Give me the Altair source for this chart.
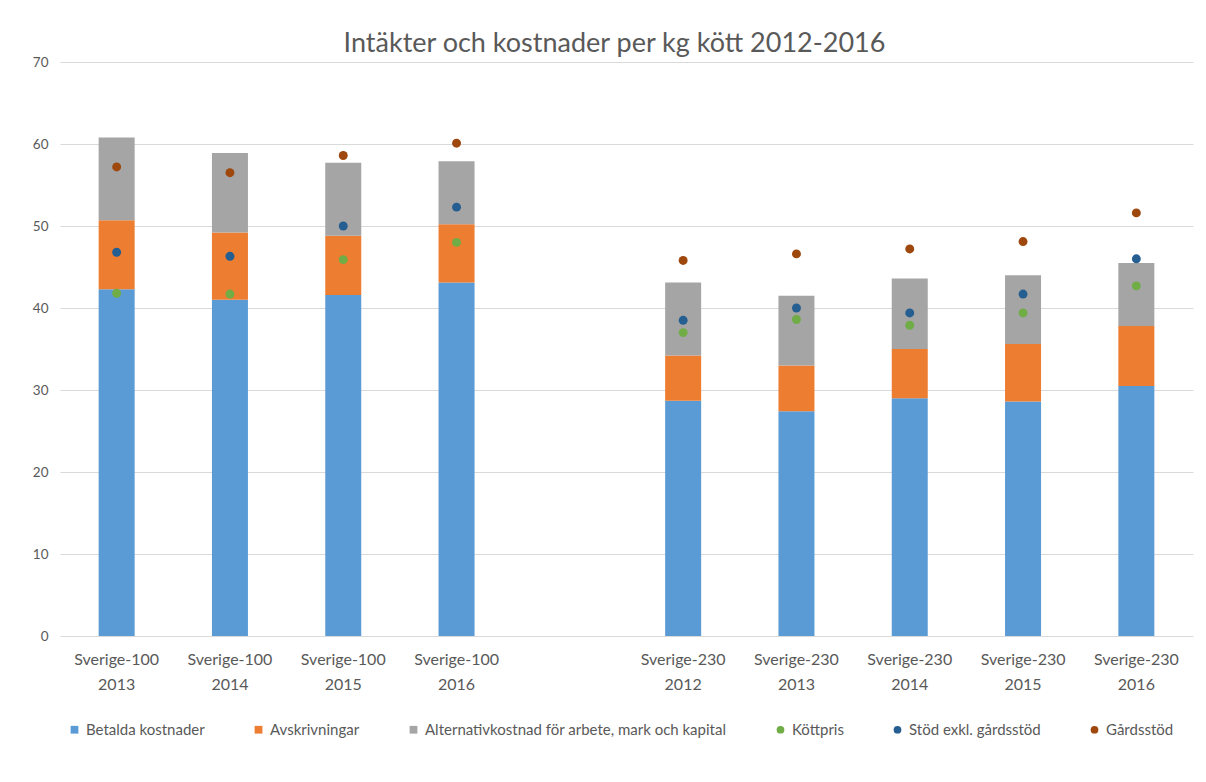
import altair as alt
import pandas as pd

categories = [
    "Sverige-100|2013", "Sverige-100|2014", "Sverige-100|2015", "Sverige-100|2016",
    "Sverige-230|2012", "Sverige-230|2013", "Sverige-230|2014", "Sverige-230|2015", "Sverige-230|2016",
]
gap = " "
x_domain = categories[:4] + [gap] + categories[4:]

series = [
    "Betalda kostnader",
    "Avskrivningar",
    "Alternativkostnad för arbete, mark och kapital",
    "Köttpris",
    "Stöd exkl. gårdsstöd",
    "Gårdsstöd",
]
colors = ["#5B9BD5", "#ED7D31", "#A5A5A5", "#70AD47", "#255E91", "#9E480E"]
shapes = ["square", "square", "square", "circle", "circle", "circle"]

# stacked bar segments
betalda = [42.3, 41.0, 41.6, 43.1, 28.7, 27.4, 29.0, 28.6, 30.5]
avskrivningar = [8.4, 8.2, 7.2, 7.1, 5.5, 5.6, 6.0, 7.0, 7.3]
alternativ = [10.1, 9.7, 8.9, 7.7, 8.9, 8.5, 8.6, 8.4, 7.7]

# points
kottpris = [41.8, 41.7, 45.9, 48.0, 37.0, 38.6, 37.9, 39.4, 42.7]
stod = [46.8, 46.3, 50.0, 52.3, 38.5, 40.0, 39.4, 41.7, 46.0]
gardsstod = [57.2, 56.5, 58.6, 60.1, 45.8, 46.6, 47.2, 48.1, 51.6]

bar_rows = []
for i, vals in enumerate([betalda, avskrivningar, alternativ]):
    for c, v in zip(categories, vals):
        bar_rows.append({"cat": c, "series": series[i], "value": v, "idx": i})
bar_df = pd.DataFrame(bar_rows)

pt_rows = []
for i, vals in enumerate([kottpris, stod, gardsstod]):
    for c, v in zip(categories, vals):
        pt_rows.append({"cat": c, "series": series[i + 3], "value": v})
pt_df = pd.DataFrame(pt_rows)

FONT = "Lato"
TXT = "#595959"

x_enc = alt.X(
    "cat:N",
    scale=alt.Scale(domain=x_domain, paddingInner=0, paddingOuter=0),
    axis=alt.Axis(
        title=None, labelAngle=0, labelExpr="split(datum.label, '|')",
        domain=False, ticks=False, labelPadding=15, labelLineHeight=25,
        labelFontSize=16, labelColor=TXT, labelFont=FONT,
    ),
)
y_scale = alt.Scale(domain=[0, 70])
y_axis = alt.Axis(
    title=None, values=[0, 10, 20, 30, 40, 50, 60, 70], domain=False, ticks=False,
    grid=True, gridColor="#D9D9D9", gridWidth=1, labelPadding=12,
    labelFontSize=13.5, labelColor=TXT, labelFont=FONT,
)

legend = alt.Legend(
    title=None, orient="none", legendX=7, legendY=660, direction="horizontal",
    labelFontSize=15, labelColor=TXT, labelFont=FONT, symbolSize=60,
    columnPadding=46, symbolStrokeWidth=0, labelLimit=400,
)
color_enc = alt.Color("series:N", scale=alt.Scale(domain=series, range=colors), legend=legend)
shape_enc = alt.Shape("series:N", scale=alt.Scale(domain=series, range=shapes), legend=legend)

bars = alt.Chart(bar_df).mark_bar(size=36).encode(
    x=x_enc,
    y=alt.Y("value:Q", stack="zero", scale=y_scale, axis=y_axis),
    color=color_enc,
    order=alt.Order("idx:Q"),
)

points = alt.Chart(pt_df).mark_point(filled=True, size=80, opacity=1).encode(
    x=x_enc,
    y=alt.Y("value:Q", scale=y_scale),
    color=color_enc,
    shape=shape_enc,
)

chart = alt.layer(bars, points).properties(
    width=1133,
    height=574,
    autosize=alt.AutoSizeParams(type="none"),
    padding={"left": 52, "top": 54, "right": 5, "bottom": 120},
    title=alt.TitleParams(
        "Intäkter och kostnader per kg kött 2012-2016",
        fontSize=27, font=FONT, fontWeight="normal", color=TXT, offset=-3, dx=-12,
    ),
).configure(background="white").configure_view(stroke=None)

chart.save("out.html", embed_options={"renderer": "svg", "actions": False})
